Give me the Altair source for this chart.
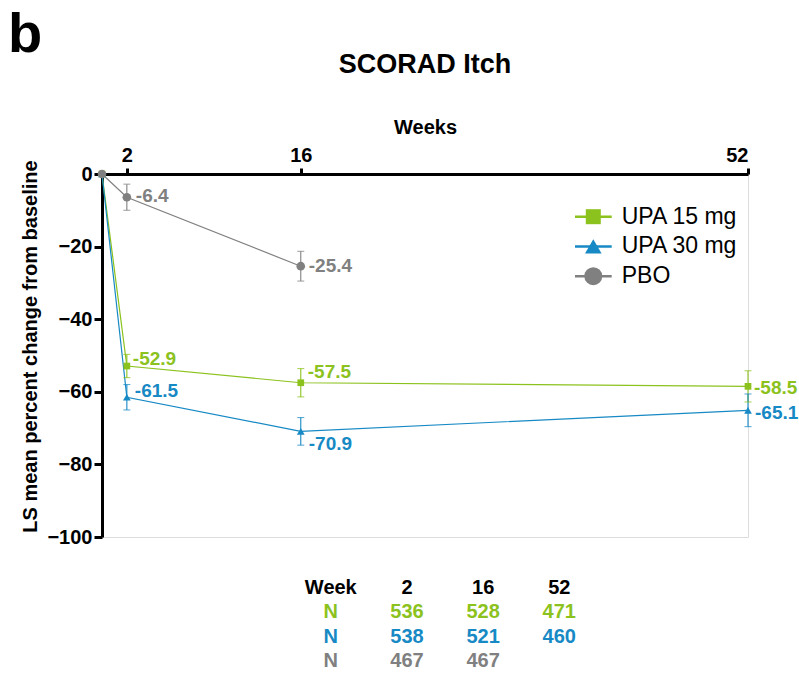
import altair as alt
import pandas as pd

# ---- data ---------------------------------------------------------------
groups = ["UPA 15 mg", "UPA 30 mg", "PBO"]
colors = ["#8CC21D", "#1789C4", "#808080"]
shapes = ["square", "triangle-up", "circle"]

upa15_weeks = [0, 2, 16, 52]
upa15_mean = [0.0, -52.9, -57.5, -58.5]
upa15_err = [0.0, 3.2, 3.9, 4.3]

upa30_weeks = [0, 2, 16, 52]
upa30_mean = [0.0, -61.5, -70.9, -65.1]
upa30_err = [0.0, 3.5, 3.8, 4.5]

pbo_weeks = [0, 2, 16]
pbo_mean = [0.0, -6.4, -25.4]
pbo_err = [0.0, 3.6, 4.1]

table_weeks = [2, 16, 52]
upa15_n = [536, 528, 471]
upa30_n = [538, 521, 460]
pbo_n = [467, 467]

# ---- tidy frames ----------------------------------------------------------
series = {
    "UPA 15 mg": (upa15_weeks, upa15_mean, upa15_err),
    "UPA 30 mg": (upa30_weeks, upa30_mean, upa30_err),
    "PBO": (pbo_weeks, pbo_mean, pbo_err),
}
rows = []
for g, (ws, ms, es) in series.items():
    for w, m, e in zip(ws, ms, es):
        rows.append({"group": g, "week": w, "mean": m, "lo": m - e, "hi": m + e,
                     "err": e, "label": f"{m:.1f}"})
df = pd.DataFrame(rows)

table_rows = [{"text": "Week", "col": 0, "row": 0}]
for i, w in enumerate(table_weeks):
    table_rows.append({"text": str(w), "col": i + 1, "row": 0})
header_df = pd.DataFrame(table_rows)

n_rows = []
for r, (g, ns) in enumerate(zip(groups, [upa15_n, upa30_n, pbo_n])):
    n_rows.append({"group": g, "text": "N", "col": 0, "row": r + 1})
    for i, n in enumerate(ns):
        n_rows.append({"group": g, "text": str(n), "col": i + 1, "row": r + 1})
n_df = pd.DataFrame(n_rows)

legend_df = pd.DataFrame({"group": groups})

FONT = "Liberation Sans"

color = alt.Color("group:N", scale=alt.Scale(domain=groups, range=colors), legend=None)
shape = alt.Shape("group:N", scale=alt.Scale(domain=groups, range=shapes), legend=None)

x = alt.X("week:Q", scale=alt.Scale(domain=[0, 52], nice=False, zero=False),
          axis=alt.Axis(orient="top", values=table_weeks, title="Weeks",
                        labelFont=FONT, labelFontSize=20, labelFontWeight="bold",
                        titleFont=FONT, titleFontSize=20, titleFontWeight="bold",
                        titlePadding=8, labelPadding=3, tickSize=6, tickWidth=3,
                        domainWidth=3, domainColor="black", tickColor="black",
                        labelColor="black", titleColor="black", grid=False))
y = alt.Y("mean:Q", scale=alt.Scale(domain=[-100, 0], nice=False),
          axis=alt.Axis(orient="left", values=[0, -20, -40, -60, -80, -100],
                        title="LS mean percent change from baseline",
                        labelFont=FONT, labelFontSize=20, labelFontWeight="bold",
                        titleFont=FONT, titleFontSize=20, titleFontWeight="bold",
                        titlePadding=6, titleY=172, labelPadding=2, tickSize=8, tickWidth=3,
                        domainWidth=3, domainColor="black", tickColor="black",
                        labelColor="black", titleColor="black", grid=False))

base = alt.Chart(df)

lines = base.mark_line(strokeWidth=1.2).encode(
    x=x, y=y, color=color, detail="group:N", order="week:Q")

bars = base.transform_filter(alt.datum.err > 0)
err_rule = bars.mark_rule(strokeWidth=1.1).encode(
    x="week:Q", y="lo:Q", y2="hi:Q", color=color)
cap_lo = bars.mark_tick(orient="horizontal", size=7, thickness=1.1).encode(
    x="week:Q", y="lo:Q", color=color)
cap_hi = bars.mark_tick(orient="horizontal", size=7, thickness=1.1).encode(
    x="week:Q", y="hi:Q", color=color)

points = base.mark_point(filled=True, opacity=1).encode(
    x="week:Q", y="mean:Q", color=color, shape=shape,
    size=alt.Size("group:N", scale=alt.Scale(domain=groups, range=[45, 75, 60]), legend=None))

# value labels next to each marker: (group, week) -> (dx, dy)
label_offsets = {
    ("PBO", 2): (9, -1), ("PBO", 16): (8, 0),
    ("UPA 15 mg", 2): (6, -7), ("UPA 15 mg", 16): (7, -11), ("UPA 15 mg", 52): (6, 2),
    ("UPA 30 mg", 2): (8, -6), ("UPA 30 mg", 16): (8, 13), ("UPA 30 mg", 52): (7, 3),
}
labels = []
for (g, w), (dx, dy) in label_offsets.items():
    labels.append(
        base.transform_filter((alt.datum.group == g) & (alt.datum.week == w))
        .mark_text(align="left", baseline="middle", dx=dx, dy=dy,
                   font=FONT, fontSize=19, fontWeight="bold")
        .encode(x="week:Q", y="mean:Q", text="label:N", color=color))

# panel letter and chart heading
heading_df = pd.DataFrame({"t": ["b"], "h": ["SCORAD Itch"]})
panel_letter = alt.Chart(heading_df).mark_text(
    align="left", baseline="alphabetic", font=FONT, fontSize=56, fontWeight="bold",
    color="black").encode(x=alt.value(-94), y=alt.value(-122), text="t:N")
heading = alt.Chart(heading_df).mark_text(
    align="center", baseline="alphabetic", font=FONT, fontSize=27, fontWeight="bold",
    color="black").encode(x=alt.value(323), y=alt.value(-101), text="h:N")

main = alt.layer(lines, err_rule, cap_lo, cap_hi, points, *labels, panel_letter, heading)

# N table under the plot
tx = alt.X("col:Q", scale=alt.Scale(domain=[0, 3], range=[228.8, 457.3]), axis=None)
ty = alt.Y("row:Q", scale=alt.Scale(domain=[0, 3], range=[414, 487]), axis=None)
header = alt.Chart(header_df).mark_text(
    font=FONT, fontSize=20, fontWeight="bold", color="black", baseline="middle"
).encode(x=tx, y=ty, text="text:N")
counts = alt.Chart(n_df).mark_text(
    font=FONT, fontSize=20, fontWeight="bold", baseline="middle"
).encode(x=tx, y=ty, text="text:N", color=color)
table = alt.layer(header, counts)

# legend: line segment with marker, then the group name
ly = alt.Y("group:N", scale=alt.Scale(type="point", domain=groups, range=[42.7, 102.2], padding=0),
           axis=None)
leg_base = alt.Chart(legend_df)
leg_line = leg_base.mark_rule(strokeWidth=2.5).encode(
    x=alt.value(473), x2=alt.value(509.7), y=ly, color=color)
leg_mark = leg_base.mark_point(filled=True, opacity=1).encode(
    x=alt.value(491.3), y=ly, color=color, shape=shape,
    size=alt.Size("group:N", scale=alt.Scale(domain=groups, range=[225, 324, 180]), legend=None))
leg_text = leg_base.mark_text(
    align="left", baseline="middle", font=FONT, fontSize=23, color="black"
).encode(x=alt.value(519.7), y=ly, text="group:N")
legend = alt.layer(leg_line, leg_mark, leg_text)

chart = (
    alt.layer(main, table, legend)
    .resolve_scale(x="independent", y="independent", size="independent")
    .properties(
        width=646, height=363,
        autosize=alt.AutoSizeParams(type="none"),
        padding={"left": 102, "top": 174, "right": 51, "bottom": 136},
    )
    .configure_view(stroke=None)
    .configure_axis(grid=False)
    .configure(font=FONT)
)

chart.save("out.html", embed_options={"renderer": "svg", "actions": False})
